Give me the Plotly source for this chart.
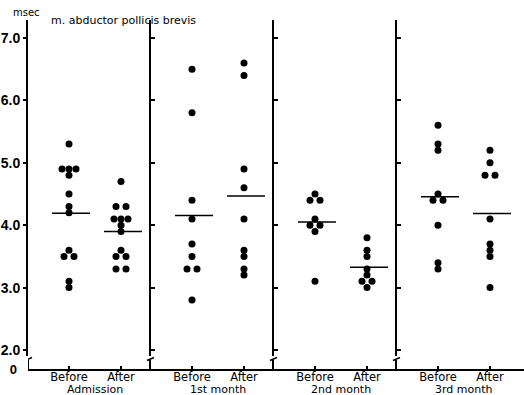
import numpy as np
import plotly.graph_objects as go
from collections import Counter

# ---------------- data (msec) ----------------
groups = ["Admission", "1st month", "2nd month", "3rd month"]
phases = ["Before", "After"]
adm_before = [5.3, 4.9, 4.9, 4.9, 4.8, 4.5, 4.3, 4.2, 3.6, 3.5, 3.5, 3.1, 3.0]
adm_after = [4.7, 4.3, 4.3, 4.1, 4.1, 4.1, 4.0, 3.9, 3.6, 3.5, 3.5, 3.3, 3.3]
m1_before = [6.5, 5.8, 4.4, 4.1, 3.7, 3.5, 3.3, 3.3, 2.8]
m1_after = [6.6, 6.4, 4.9, 4.6, 4.1, 3.6, 3.5, 3.3, 3.2]
m2_before = [4.5, 4.4, 4.4, 4.1, 4.0, 4.0, 3.9, 3.1]
m2_after = [3.8, 3.6, 3.5, 3.3, 3.2, 3.1, 3.1, 3.0]
m3_before = [5.6, 5.3, 5.2, 4.5, 4.4, 4.4, 4.0, 3.4, 3.3]
m3_after = [5.2, 5.0, 4.8, 4.8, 4.1, 3.7, 3.6, 3.5, 3.0]
series = [[adm_before, adm_after], [m1_before, m1_after],
          [m2_before, m2_after], [m3_before, m3_after]]
y_ticks = [2.0, 3.0, 4.0, 5.0, 6.0, 7.0]
y_ticktext = ["2.0", "3.0", "4.0", "5.0", "6.0", "7.0"]

# ---------------- layout constants ----------------
W, H = 524, 395
ML, MR, MT, MB = 28, 0, 20, 26
XMAX = W - ML - MR              # x axis in pixel-like units
PH = H - MT - MB                # plot height
GROUP_STEP = 123
OFF = {"Before": 41, "After": 93}
Y_LO, Y_HI = 1.904, 7.288
Y_DOM_LO = 13 / PH              # main axis bottom (break)
FONT = "DejaVu Sans"

def paper_y(py):
    return (H - MB - py) / PH

fig = go.Figure()
shapes = []
tickvals, ticktext = [], []

for g, (gname, pair) in enumerate(zip(groups, series)):
    for p, vals in zip(phases, pair):
        cx = g * GROUP_STEP + OFF[p]
        tickvals.append(cx)
        ticktext.append(p)
        cnt = Counter(vals)
        seen = Counter()
        xs = []
        for v in vals:
            k = cnt[v]
            sp = 10 if k == 2 else 7
            xs.append(cx + (seen[v] - (k - 1) / 2) * sp)
            seen[v] += 1
        fig.add_trace(go.Scatter(x=xs, y=vals, mode="markers",
                                 marker=dict(size=7, color="black"),
                                 hoverinfo="y", showlegend=False))
        m = float(np.mean(vals))
        shapes.append(dict(type="line", xref="x", yref="y",
                           x0=cx - 17, x1=cx + 21, y0=m, y1=m,
                           line=dict(color="black", width=1.5)))
    # group label
    fig.add_annotation(x=g * GROUP_STEP + (OFF["Before"] + OFF["After"]) / 2,
                       y=paper_y(389), xref="x", yref="paper",
                       text=gname, showarrow=False, yanchor="middle",
                       font=dict(family=FONT, size=11, color="black"))

# lower "0" axis (needs a trace so it renders)
fig.add_trace(go.Scatter(x=[None], y=[None], yaxis="y2", showlegend=False,
                         hoverinfo="skip"))

# vertical axis lines: main axis at 0, separators between groups
vlines = [0] + [g * GROUP_STEP - 1 for g in range(1, 4)]
for i, vx in enumerate(vlines):
    # lower segment below break
    shapes.append(dict(type="line", xref="x", yref="paper",
                       x0=vx, x1=vx, y0=0, y1=paper_y(360),
                       line=dict(color="black", width=2)))
    # break stroke
    shapes.append(dict(type="line", xref="x", yref="paper",
                       x0=vx - 3, x1=vx + 4, y0=paper_y(360.5), y1=paper_y(357.5),
                       line=dict(color="black", width=1.5)))
    if i > 0:
        name = f"yaxis{i + 2}"
        ax = dict(overlaying="y", anchor="free", position=vx / XMAX,
                  range=[Y_LO, Y_HI], showline=True, linewidth=2,
                  linecolor="black", ticks="inside", ticklen=4, tickwidth=1.5,
                  tickcolor="black", tickvals=y_ticks, showticklabels=False,
                  showgrid=False, zeroline=False)
        fig.update_layout(**{name: ax})
        fig.add_trace(go.Scatter(x=[None], y=[None], yaxis=f"y{i + 2}",
                                 showlegend=False, hoverinfo="skip"))

fig.update_layout(
    width=W, height=H,
    margin=dict(l=ML, r=MR, t=MT, b=MB),
    plot_bgcolor="white", paper_bgcolor="white",
    showlegend=False,
    shapes=shapes,
    xaxis=dict(range=[0, XMAX], anchor="y2", showline=True, linewidth=2,
               linecolor="black", showgrid=False, zeroline=False,
               ticks="inside", ticklen=3, tickwidth=1.5, tickcolor="black",
               tickvals=tickvals, ticktext=ticktext, ticklabelstandoff=-4,
               tickfont=dict(family=FONT, size=11.5, color="black")),
    yaxis=dict(domain=[Y_DOM_LO, 1], range=[Y_LO, Y_HI], showline=True,
               linewidth=2, linecolor="black", showgrid=False, zeroline=False,
               ticks="outside", ticklen=3, tickwidth=1.5, tickcolor="black",
               tickvals=y_ticks, ticktext=y_ticktext,
               tickfont=dict(family="Liberation Sans", size=14, color="black",
                             weight="bold")),
    yaxis2=dict(domain=[0, 0.02], range=[0, 1], tickvals=[0], ticktext=["0"],
                showline=False, showgrid=False, zeroline=False, ticks="",
                ticklabelstandoff=10,
                tickfont=dict(family="Liberation Sans", size=13, color="black",
                              weight="bold")),
)

fig.add_annotation(x=-0.004, y=paper_y(12), xref="paper", yref="paper",
                   text="msec", showarrow=False, xanchor="center", yanchor="middle",
                   font=dict(family=FONT, size=10, color="black"))
fig.add_annotation(x=(49 - ML) / XMAX, y=paper_y(20), xref="paper", yref="paper",
                   text="m. abductor pollicis brevis", showarrow=False,
                   xanchor="left", yanchor="middle",
                   font=dict(family=FONT, size=11, color="black"))

fig.write_html("out.html")
